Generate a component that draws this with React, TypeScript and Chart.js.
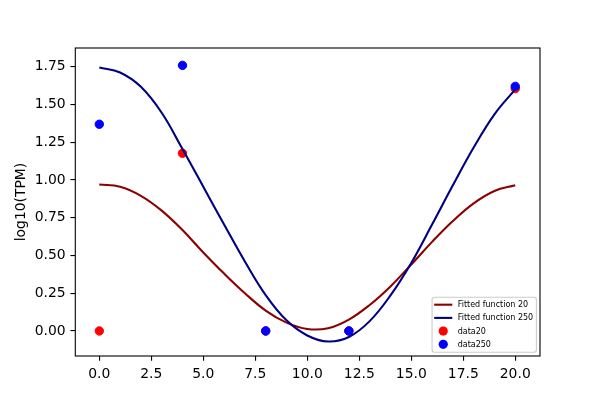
import React, { useEffect, useRef } from "react";
import { Chart, registerables } from "chart.js";

Chart.register(...registerables);

// ---- data ----
const fitX = [0, 1, 2, 3, 4, 5, 6, 7, 8, 9, 10, 11, 12, 13, 14, 15, 16, 17, 18, 19, 20];
const fit20 = [0.970, 0.955, 0.895, 0.797, 0.668, 0.52, 0.38, 0.25, 0.135, 0.055, 0.013, 0.018, 0.075, 0.172, 0.295, 0.44, 0.59, 0.728, 0.845, 0.927, 0.965];
const fit250 = [1.745, 1.712, 1.617, 1.445, 1.205, 0.955, 0.705, 0.46, 0.237, 0.07, -0.03, -0.07, -0.04, 0.065, 0.235, 0.45, 0.705, 0.965, 1.215, 1.435, 1.60];
const pointX = [0, 4, 8, 12, 20];
const data20 = [0, 1.177, 0, 0, 1.605];
const data250 = [1.369, 1.759, 0, 0, 1.62];
const xTicks = [0, 2.5, 5, 7.5, 10, 12.5, 15, 17.5, 20];
const yTicks = [0, 0.25, 0.5, 0.75, 1.0, 1.25, 1.5, 1.75];
const legendLabels = ["Fitted function 20", "Fitted function 250", "data20", "data250"];
const yTitle = "log10(TPM)";

const FONT = "'DejaVu Sans', sans-serif";

const frameAndLegend = {
  id: "frameAndLegend",
  afterDraw(chart: any) {
    const ctx = chart.ctx;
    const ca = chart.chartArea;
    ctx.save();
    // spines
    ctx.strokeStyle = "#000";
    ctx.lineWidth = 1.1;
    ctx.strokeRect(ca.left, ca.top, ca.right - ca.left, ca.bottom - ca.top);

    // legend
    const fs = 8;
    ctx.font = `${fs}px ${FONT}`;
    let maxW = 0;
    legendLabels.forEach((l) => (maxW = Math.max(maxW, ctx.measureText(l).width)));
    const pad = 0.4 * fs;
    const handleLen = 2 * fs;
    const textPad = 0.8 * fs;
    const w = pad + handleLen + textPad + maxW + pad;
    const step = 13.2;
    const h = 55;
    const right = ca.right - 3.6;
    const bottom = ca.bottom - 3.8;
    const left = right - w;
    const top = bottom - h;
    const r = 2.5;
    ctx.beginPath();
    ctx.moveTo(left + r, top);
    ctx.lineTo(right - r, top);
    ctx.quadraticCurveTo(right, top, right, top + r);
    ctx.lineTo(right, bottom - r);
    ctx.quadraticCurveTo(right, bottom, right - r, bottom);
    ctx.lineTo(left + r, bottom);
    ctx.quadraticCurveTo(left, bottom, left, bottom - r);
    ctx.lineTo(left, top + r);
    ctx.quadraticCurveTo(left, top, left + r, top);
    ctx.closePath();
    ctx.fillStyle = "rgba(255,255,255,0.8)";
    ctx.fill();
    ctx.strokeStyle = "#cccccc";
    ctx.lineWidth = 1.1;
    ctx.stroke();

    const ds = chart.data.datasets;
    const hx0 = left + pad;
    const hx1 = hx0 + handleLen;
    for (let i = 0; i < 4; i++) {
      const cy = top + 7.5 + i * step;
      const d = ds[i];
      if (i < 2) {
        ctx.strokeStyle = d.borderColor;
        ctx.lineWidth = 2.1;
        ctx.lineCap = "square";
        ctx.beginPath();
        ctx.moveTo(hx0, cy);
        ctx.lineTo(hx1, cy);
        ctx.stroke();
      } else {
        ctx.fillStyle = d.backgroundColor;
        ctx.beginPath();
        ctx.arc((hx0 + hx1) / 2, cy, 4.6, 0, Math.PI * 2);
        ctx.fill();
      }
      ctx.fillStyle = "#000";
      ctx.textBaseline = "middle";
      ctx.textAlign = "left";
      ctx.fillText(legendLabels[i], hx1 + textPad, cy + 0.5);
    }
    ctx.restore();
  },
};

export default function App() {
  const ref = useRef<HTMLCanvasElement>(null);
  useEffect(() => {
    if (!ref.current) return;
    Chart.defaults.font.family = FONT;
    const toPts = (xs: number[], ys: number[]) => xs.map((x, i) => ({ x, y: ys[i] }));
    const chart = new Chart(ref.current, {
      type: "scatter",
      data: {
        datasets: [
          {
            label: legendLabels[0],
            data: toPts(fitX, fit20),
            showLine: true,
            borderColor: "#8b0000",
            backgroundColor: "#8b0000",
            borderWidth: 2.1,
            pointRadius: 0,
            tension: 0.4,
            order: 2,
          },
          {
            label: legendLabels[1],
            data: toPts(fitX, fit250),
            showLine: true,
            borderColor: "#000080",
            backgroundColor: "#000080",
            borderWidth: 2.1,
            pointRadius: 0,
            tension: 0.4,
            order: 1,
          },
          {
            label: legendLabels[2],
            data: toPts(pointX, data20),
            borderColor: "#ff0000",
            backgroundColor: "#ff0000",
            pointRadius: 4.2,
            borderWidth: 1,
            order: 4,
          },
          {
            label: legendLabels[3],
            data: toPts(pointX, data250),
            borderColor: "#0000ff",
            backgroundColor: "#0000ff",
            pointRadius: 4.2,
            borderWidth: 1,
            order: 3,
          },
        ] as any,
      },
      options: {
        animation: false,
        responsive: false,
        devicePixelRatio: 1,
        layout: { padding: { left: 0, top: 48, right: 60, bottom: 0 } },
        plugins: {
          legend: { display: false },
          tooltip: { enabled: false },
        },
        scales: {
          x: {
            type: "linear",
            min: -1.154,
            max: 21.19,
            afterBuildTicks: (s: any) => {
              s.ticks = xTicks.map((v) => ({ value: v }));
            },
            afterFit: (s: any) => {
              s.height = 44;
            },
            grid: {
              display: true,
              drawOnChartArea: false,
              drawTicks: true,
              tickLength: 4.86,
              tickColor: "#000",
              lineWidth: 1.1,
            },
            border: { display: false },
            ticks: {
              color: "#000",
              font: { size: 13.9, family: FONT },
              padding: 4.86,
              maxRotation: 0,
              autoSkip: false,
              callback: (v: any) => Number(v).toFixed(1),
            },
          },
          y: {
            type: "linear",
            min: -0.166,
            max: 1.874,
            afterBuildTicks: (s: any) => {
              s.ticks = yTicks.map((v) => ({ value: v }));
            },
            afterFit: (s: any) => {
              s.width = 75.3;
            },
            grid: {
              display: true,
              drawOnChartArea: false,
              drawTicks: true,
              tickLength: 4.86,
              tickColor: "#000",
              lineWidth: 1.1,
            },
            border: { display: false },
            title: {
              display: true,
              text: yTitle,
              color: "#000",
              font: { size: 13.9, family: FONT },
              padding: { top: 13, bottom: 0 },
            },
            ticks: {
              color: "#000",
              font: { size: 13.9, family: FONT },
              padding: 4.86,
              autoSkip: false,
              callback: (v: any) => Number(v).toFixed(2),
            },
          },
        },
      } as any,
      plugins: [frameAndLegend],
    });
    return () => chart.destroy();
  }, []);
  return (
    <div style={{ position: "fixed", left: 0, top: 0, width: 600, height: 400, background: "#fff" }}>
      <canvas ref={ref} width={600} height={400} style={{ width: 600, height: 400 }} />
    </div>
  );
}
